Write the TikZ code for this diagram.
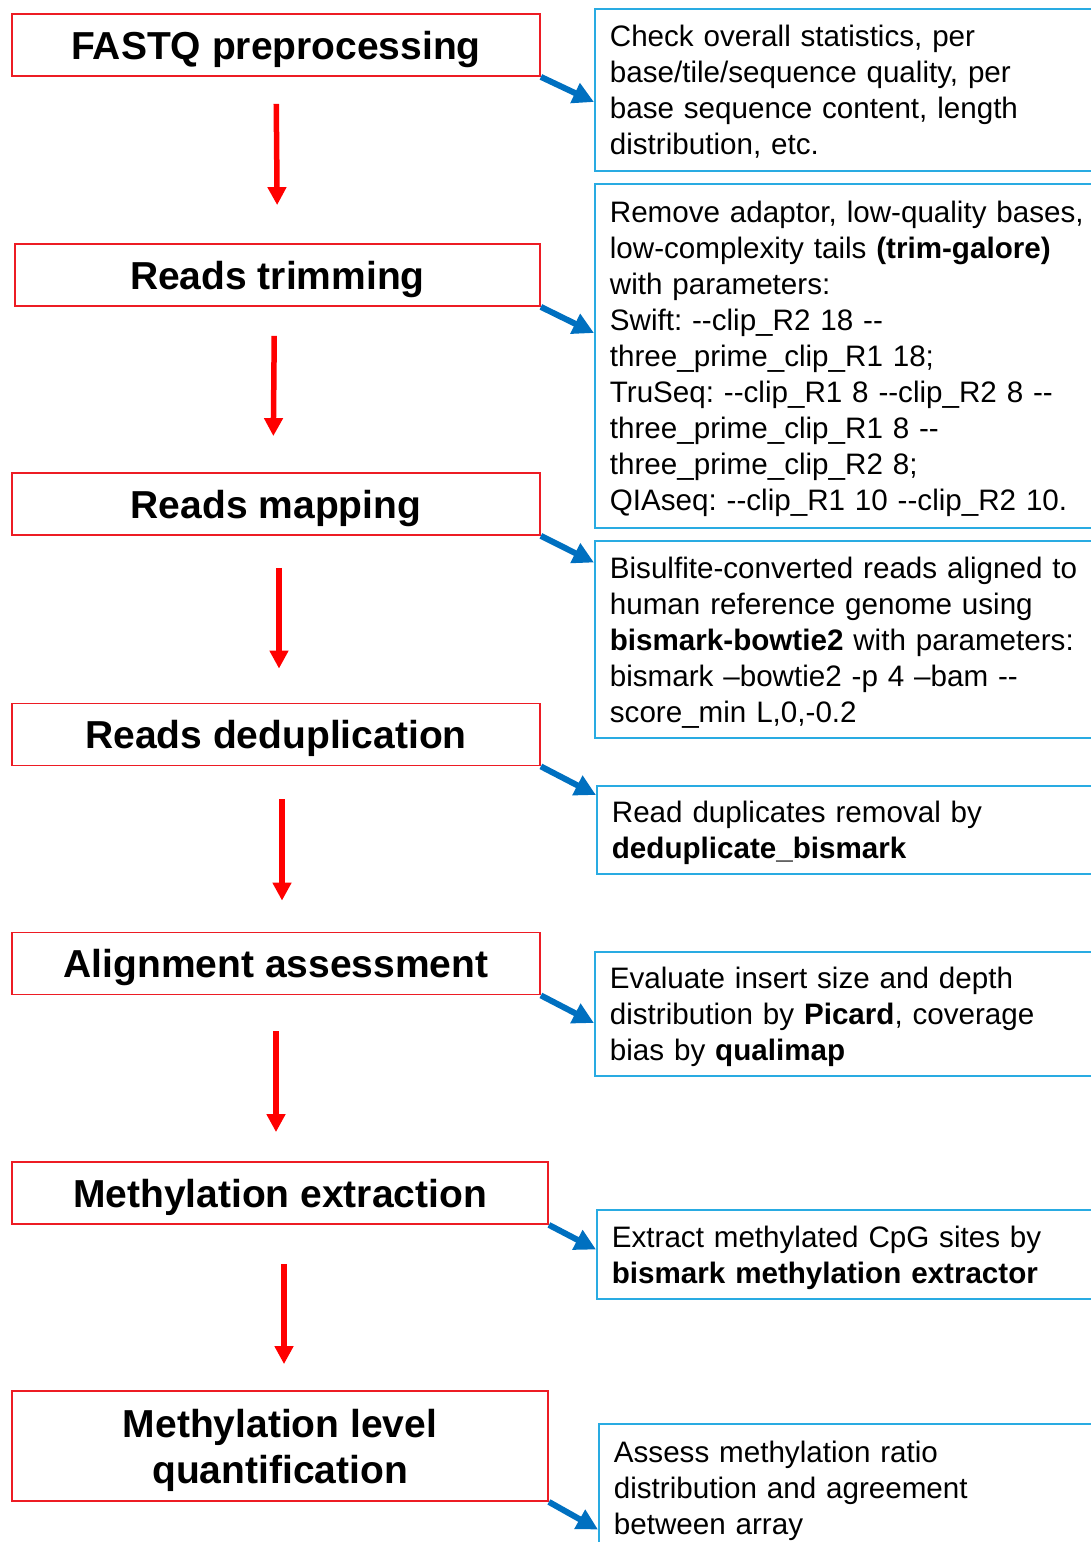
\documentclass[tikz,border=0pt]{standalone}
\usepackage{fontspec}
\setmainfont{Liberation Sans}[Ligatures=TeXOff]
\usetikzlibrary{arrows.meta}
\definecolor{stagered}{RGB}{237,28,36}
\definecolor{notecyan}{RGB}{41,171,226}
\definecolor{linkblue}{RGB}{0,112,192}
\frenchspacing

\begin{document}
\begin{tikzpicture}[x=1pt, y=-1pt,
  stage/.style={draw=stagered, line width=1.8pt, minimum width=528pt, minimum height=62pt, inner sep=0pt, text height=28pt, text depth=0pt, align=center, font=\fontsize{39}{46}\selectfont\bfseries},
  note/.style={draw=notecyan, line width=1.8pt, anchor=west, text width=490pt, inner xsep=15pt, inner ysep=0pt, text height=21pt, align=left, font=\fontsize{29.6}{36}\selectfont},
  flow/.style={draw=red, line width=5.5pt, -{Triangle[length=18pt,width=18pt]}},
  link/.style={draw=linkblue, line width=6pt, -{Triangle[length=21pt,width=21pt]}}]
  \path[use as bounding box, clip] (0,0) rectangle (1091,1542);

  % pipeline steps
  \node[stage] (b1) at (276,45) {FASTQ preprocessing};
  \node[stage, minimum width=525pt] (b2) at (277.5,275) {Reads trimming};
  \node[stage] (b3) at (276,504) {Reads mapping};
  \node[stage] (b4) at (276,734.5) {Reads deduplication};
  \node[stage] (b5) at (276,963.5) {Alignment assessment};
  \node[stage, minimum width=536pt] (b6) at (280,1193) {Methylation extraction};
  \node[stage, minimum width=536pt, minimum height=110pt, text height=74pt] (b7) at (280,1446) {Methylation level\\quantification};

  \draw[flow, shorten <=27pt, shorten >=38pt] (b1.south) -- (b2.north);
  \draw[flow, shorten <=29pt, shorten >=36pt] ([xshift=-3pt]b2.south) -- ([xshift=-3pt]b3.north);
  \draw[flow, shorten <=32pt, shorten >=34pt] ([xshift=3pt]b3.south) -- ([xshift=3pt]b4.north);
  \draw[flow, shorten <=33pt, shorten >=31pt] ([xshift=6pt]b4.south) -- ([xshift=6pt]b5.north);
  \draw[flow, shorten <=36pt, shorten >=29pt] (b5.south) -- ([xshift=-4pt]b6.north);
  \draw[flow, shorten <=39pt, shorten >=26pt] ([xshift=4pt]b6.south) -- ([xshift=4pt]b7.north);

  % details (text depth = 36pt per extra line)
  \node[note, minimum height=162pt, text depth=108pt] (r1) at (594,90) {Check overall statistics, per\\base/tile/sequence quality, per\\base sequence content, length\\distribution, etc.};
  \node[note, minimum height=344pt, text depth=288pt] (r2) at (594,356) {Remove adaptor, low-quality bases,\\low-complexity tails \textbf{(trim-galore)}\\with parameters:\\Swift: --clip\_R2 18 --\\three\_prime\_clip\_R1 18;\\TruSeq: --clip\_R1 8 --clip\_R2 8 --\\three\_prime\_clip\_R1 8 --\\three\_prime\_clip\_R2 8;\\QIAseq: --clip\_R1 10 --clip\_R2 10.};
  \node[note, minimum height=197pt, text depth=144pt] (r3) at (594,639.5) {Bisulfite-converted reads aligned to\\human reference genome using\\\textbf{bismark-bowtie2} with parameters:\\bismark –bowtie2 -p 4 –bam --\\score\_min L,0,-0.2};
  \node[note, minimum height=88pt, text depth=36pt] (r4) at (596,830) {Read duplicates removal by\\\textbf{deduplicate\_bismark}};
  \node[note, minimum height=124pt, text depth=72pt] (r5) at (594,1014) {Evaluate insert size and depth\\distribution by \textbf{Picard}, coverage\\bias by \textbf{qualimap}};
  \node[note, minimum height=89pt, text depth=36pt] (r6) at (596,1254.5) {Extract methylated CpG sites by\\\textbf{bismark methylation extractor}};
  \node[note, minimum height=127pt, text depth=72pt] (r7) at (598,1487.5) {Assess methylation ratio\\distribution and agreement\\between array};

  \draw[link] (b1.south east) -- ([yshift=-12pt]r1.west);
  \draw[link] (b2.south east) -- ([yshift=23pt]r2.west);
  \draw[link] (b3.south east) -- ([yshift=77pt]r3.west);
  \draw[link] (b4.south east) -- ([yshift=35pt]r4.west);
  \draw[link] (b5.south east) -- ([yshift=-9pt]r5.west);
  \draw[link] (b6.south east) -- ([yshift=5pt]r6.west);
  \draw[link] (b7.south east) -- ([yshift=-42pt]r7.west);
\end{tikzpicture}
\end{document}
